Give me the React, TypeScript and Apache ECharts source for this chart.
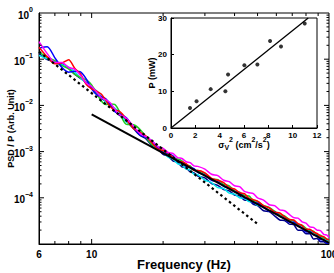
import React, { useEffect, useRef } from 'react';
import * as echarts from 'echarts';

const FONT = '"Liberation Sans", Arial, Helvetica, sans-serif';

// Frequency grid (Hz)
const freqHz = [6, 6.5, 7, 7.5, 8, 8.5, 9, 9.5, 10, 10.5, 11, 11.5, 12, 12.5, 13, 13.5, 14, 15, 16, 17, 18, 19, 20, 21, 22, 23, 24, 25, 26, 27, 28, 30, 32, 34, 36, 38, 40, 42, 44, 46, 48, 50, 53, 56, 59, 62, 65, 68, 71, 74, 77, 80, 83, 86, 89, 92, 95, 98, 100];

// log10(PSD / P), one array per coloured curve
const redLog = [-0.74, -0.95, -1.10, -1.08, -1.01, -1.20, -1.33, -1.55, -1.64, -1.69, -1.76, -1.90, -2.03, -2.10, -2.12, -2.19, -2.31, -2.50, -2.58, -2.67, -2.82, -2.94, -2.98, -3.03, -3.12, -3.20, -3.22, -3.26, -3.34, -3.41, -3.41, -3.46, -3.58, -3.62, -3.67, -3.78, -3.81, -3.89, -3.91, -4.01, -4.04, -4.07, -4.17, -4.22, -4.31, -4.33, -4.41, -4.47, -4.48, -4.56, -4.60, -4.68, -4.68, -4.74, -4.77, -4.83, -4.84, -4.90, -4.91];
const magentaLog = [-0.62, -0.88, -1.07, -1.07, -1.18, -1.22, -1.36, -1.52, -1.59, -1.71, -1.84, -1.88, -1.95, -2.08, -2.19, -2.23, -2.28, -2.45, -2.61, -2.68, -2.77, -2.89, -2.93, -3.02, -3.04, -3.13, -3.15, -3.22, -3.24, -3.31, -3.32, -3.38, -3.49, -3.52, -3.62, -3.65, -3.74, -3.76, -3.86, -3.89, -3.91, -4.00, -4.05, -4.15, -4.17, -4.26, -4.28, -4.36, -4.43, -4.44, -4.52, -4.55, -4.63, -4.64, -4.70, -4.71, -4.79, -4.81, -4.86];
const blueLog = [-0.76, -0.73, -0.97, -1.18, -1.28, -1.26, -1.28, -1.43, -1.64, -1.77, -1.81, -1.86, -1.99, -2.13, -2.18, -2.21, -2.27, -2.47, -2.64, -2.69, -2.78, -2.91, -3.02, -3.04, -3.09, -3.20, -3.23, -3.32, -3.34, -3.37, -3.45, -3.51, -3.62, -3.65, -3.75, -3.78, -3.87, -3.89, -4.00, -4.02, -4.11, -4.11, -4.20, -4.29, -4.30, -4.40, -4.45, -4.53, -4.53, -4.61, -4.65, -4.74, -4.73, -4.80, -4.82, -4.91, -4.91, -4.98, -4.98];
const greenLog = [-0.84, -0.96, -1.03, -1.14, -1.21, -1.33, -1.40, -1.45, -1.56, -1.74, -1.91, -1.98, -1.97, -1.98, -2.10, -2.30, -2.41, -2.42, -2.52, -2.69, -2.86, -2.89, -2.94, -3.06, -3.15, -3.16, -3.20, -3.29, -3.31, -3.40, -3.41, -3.47, -3.59, -3.61, -3.71, -3.74, -3.85, -3.88, -3.95, -3.96, -4.06, -4.08, -4.17, -4.21, -4.29, -4.37, -4.39, -4.47, -4.50, -4.58, -4.59, -4.66, -4.71, -4.72, -4.80, -4.81, -4.87, -4.89, -4.92];
const cyanLog = [-0.92, -0.99, -1.07, -1.12, -1.17, -1.28, -1.41, -1.52, -1.60, -1.69, -1.81, -1.93, -2.00, -2.06, -2.13, -2.25, -2.36, -2.49, -2.58, -2.70, -2.85, -2.96, -3.01, -3.12, -3.16, -3.26, -3.29, -3.38, -3.40, -3.49, -3.50, -3.62, -3.67, -3.78, -3.80, -3.90, -3.92, -4.00, -4.01, -4.08, -4.09, -4.16, -4.19, -4.28, -4.30, -4.39, -4.41, -4.48, -4.50, -4.58, -4.61, -4.69, -4.69, -4.76, -4.78, -4.85, -4.86, -4.92, -4.93];
const navyLog = [-0.87, -1.01, -1.06, -1.10, -1.20, -1.33, -1.42, -1.50, -1.61, -1.73, -1.85, -1.92, -1.98, -2.10, -2.20, -2.25, -2.31, -2.50, -2.65, -2.73, -2.88, -2.94, -3.06, -3.10, -3.20, -3.23, -3.33, -3.35, -3.44, -3.46, -3.53, -3.57, -3.69, -3.73, -3.82, -3.85, -3.94, -3.96, -4.05, -4.06, -4.14, -4.17, -4.28, -4.30, -4.39, -4.48, -4.49, -4.57, -4.58, -4.70, -4.70, -4.78, -4.78, -4.89, -4.88, -4.95, -4.95, -4.99, -4.98];

// Reference power laws (end points)
const dashedFreq = [6, 50];
const dashedPsd = [0.146, 2.71e-5];
const fitFreq = [10, 100];
const fitPsd = [6.37e-3, 1.06e-5];

// Inset: P vs sigma_v^2
const sigma2 = [1.56, 2.1, 3.26, 4.47, 4.69, 6.03, 7.1, 8.14, 9.04, 10.99];
const powerMW = [5.45, 7.3, 10.6, 10.0, 14.6, 17.1, 17.3, 23.7, 22.2, 28.5];
const insetFitX = [0, 11.28];
const insetFitY = [0, 30];

// Axis tick values
const xMajorTicks = [10];
const xMinorTicks = [7, 8, 9, 20, 30, 40, 50, 60, 70, 80, 90];
const yDecades = [1e-5, 1e-4, 1e-3, 1e-2, 1e-1];
const yMantissas = [2, 3, 4, 5, 6, 7, 8, 9];
const yMajorTicks = [1e-4, 1e-3, 1e-2, 1e-1];

const supMinus = (n: number) => (n === 0 ? '0' : '\u2212' + String(-n));

export default function App() {
  const ref = useRef<HTMLDivElement>(null);
  useEffect(() => {
    if (!ref.current) return;
    const chart = echarts.init(ref.current, undefined, { renderer: 'svg' });

    const toSeries = (arr: number[]) => freqHz.map((f, i) => [f, Math.pow(10, arr[i])]);

    const xTickItem = (len: number) => (params: any, api: any) => {
      const cs = params.coordSys;
      const x = api.coord([api.value(0), 1e-2])[0];
      const b = cs.y + cs.height;
      return {
        type: 'group',
        children: [
          { type: 'line', shape: { x1: x, y1: b, x2: x, y2: b - len }, style: { stroke: '#000', lineWidth: 1 } },
          { type: 'line', shape: { x1: x, y1: cs.y, x2: x, y2: cs.y + len }, style: { stroke: '#000', lineWidth: 1 } },
        ],
      };
    };
    const yTickItem = (len: number) => (params: any, api: any) => {
      const cs = params.coordSys;
      const y = api.coord([10, api.value(1)])[1];
      const r = cs.x + cs.width;
      return {
        type: 'group',
        children: [
          { type: 'line', shape: { x1: cs.x, y1: y, x2: cs.x + len, y2: y }, style: { stroke: '#000', lineWidth: 1 } },
          { type: 'line', shape: { x1: r, y1: y, x2: r - len, y2: y }, style: { stroke: '#000', lineWidth: 1 } },
        ],
      };
    };

    const yMinorTicks: number[] = [];
    yDecades.forEach((d) => yMantissas.forEach((m) => yMinorTicks.push(m * d)));

    const curve = (name: string, color: string, arr: number[]) => ({
      name,
      type: 'line',
      xAxisIndex: 0,
      yAxisIndex: 0,
      data: toSeries(arr),
      showSymbol: false,
      smooth: 0.25,
      lineStyle: { color, width: 1.5 },
      z: 3,
    });

    const labelRich = {
      b: { fontSize: 10, fontWeight: 'bold', color: '#000', fontFamily: FONT, lineHeight: 14, verticalAlign: 'bottom' },
      s: { fontSize: 7, fontWeight: 'bold', color: '#000', fontFamily: FONT, lineHeight: 14, verticalAlign: 'top' },
    };

    const option: any = {
      animation: false,
      textStyle: { fontFamily: FONT },
      grid: [
        { left: 39, top: 13, width: 290, height: 231, show: true, borderColor: '#000', borderWidth: 1, containLabel: false, outerBoundsMode: 'none' },
        { left: 171, top: 18, width: 146, height: 110, show: true, borderColor: '#000', borderWidth: 1, backgroundColor: '#fff', containLabel: false, outerBoundsMode: 'none' },
      ],
      xAxis: [
        {
          type: 'log', logBase: 10, gridIndex: 0, min: 6, max: 100,
          axisLine: { show: true, lineStyle: { color: '#000', width: 1 } },
          axisTick: { show: false },
          splitLine: { show: false },
          axisLabel: { color: '#000', fontSize: 10, fontWeight: 'bold', margin: 5, formatter: (v: number) => String(Math.round(v)) },
          name: 'Frequency (Hz)', nameLocation: 'middle', nameGap: 14, nameMoveOverlap: false,
          nameTextStyle: { fontSize: 13, fontWeight: 'bold', color: '#000', fontFamily: FONT },
        },
        {
          type: 'value', gridIndex: 1, min: 0, max: 12, interval: 2,
          axisLine: { show: true, lineStyle: { color: '#000', width: 1 } },
          axisTick: { show: true, inside: true, length: 3, lineStyle: { color: '#000' } },
          splitLine: { show: false },
          axisLabel: { color: '#000', fontSize: 8, fontWeight: 'bold', margin: 3 },
          name: '{b|\u03c3}{sub|V}{sup|2}{b| (cm}{sup|2}{b|/s}{sup|2}{b|)}',
          nameLocation: 'middle', nameGap: 8, nameMoveOverlap: false,
          nameTextStyle: {
            rich: {
              b: { fontSize: 9, fontWeight: 'bold', color: '#000', fontFamily: FONT, lineHeight: 13, verticalAlign: 'bottom' },
              sub: { fontSize: 7, fontWeight: 'bold', color: '#000', fontFamily: FONT, lineHeight: 13, verticalAlign: 'bottom', padding: [0, 0, -2, 0] },
              sup: { fontSize: 7, fontWeight: 'bold', color: '#000', fontFamily: FONT, lineHeight: 13, verticalAlign: 'top' },
            },
          },
        },
      ],
      yAxis: [
        {
          type: 'log', logBase: 10, gridIndex: 0, min: 1e-5, max: 1,
          axisLine: { show: true, lineStyle: { color: '#000', width: 1 } },
          axisTick: { show: false },
          splitLine: { show: false },
          axisLabel: {
            margin: 6,
            formatter: (v: number) => {
              const e = Math.round(Math.log10(v));
              if (e <= -5) return '';
              return '{b|10}{s|' + supMinus(e) + '}';
            },
            rich: labelRich,
          },
          name: 'PSD / P (Arb. Unit)', nameLocation: 'middle', nameGap: 24, nameMoveOverlap: false,
          nameTextStyle: { fontSize: 9, fontWeight: 'bold', color: '#000', fontFamily: FONT },
        },
        {
          type: 'value', gridIndex: 1, min: 0, max: 30, interval: 10,
          axisLine: { show: true, lineStyle: { color: '#000', width: 1 } },
          axisTick: { show: true, inside: true, length: 3, lineStyle: { color: '#000' } },
          splitLine: { show: false },
          axisLabel: { color: '#000', fontSize: 8, fontWeight: 'bold', margin: 4 },
          name: 'P (mW)', nameLocation: 'middle', nameGap: 15, nameMoveOverlap: false,
          nameTextStyle: { fontSize: 9, fontWeight: 'bold', color: '#000', fontFamily: FONT },
        },
      ],
      series: [
        curve('navy', '#00008b', navyLog),
        curve('cyan', '#00e5ee', cyanLog),
        curve('green', '#22cc22', greenLog),
        curve('blue', '#0000ff', blueLog),
        curve('red', '#ff0000', redLog),
        curve('magenta', '#ff00ff', magentaLog),
        {
          name: 'dashed', type: 'line', xAxisIndex: 0, yAxisIndex: 0,
          data: dashedFreq.map((f, i) => [f, dashedPsd[i]]),
          showSymbol: false, lineStyle: { color: '#000', width: 2.2, type: [2.5, 3] }, z: 4,
        },
        {
          name: 'fit', type: 'line', xAxisIndex: 0, yAxisIndex: 0,
          data: fitFreq.map((f, i) => [f, fitPsd[i]]),
          showSymbol: false, lineStyle: { color: '#000', width: 2 }, z: 4,
        },
        {
          type: 'custom', xAxisIndex: 0, yAxisIndex: 0, silent: true, clip: false, z: 5,
          data: xMajorTicks.map((f) => [f, 1e-2]), renderItem: xTickItem(5),
        },
        {
          type: 'custom', xAxisIndex: 0, yAxisIndex: 0, silent: true, clip: false, z: 5,
          data: xMinorTicks.map((f) => [f, 1e-2]), renderItem: xTickItem(3),
        },
        {
          type: 'custom', xAxisIndex: 0, yAxisIndex: 0, silent: true, clip: false, z: 5,
          data: yMajorTicks.map((v) => [10, v]), renderItem: yTickItem(5),
        },
        {
          type: 'custom', xAxisIndex: 0, yAxisIndex: 0, silent: true, clip: false, z: 5,
          data: yMinorTicks.map((v) => [10, v]), renderItem: yTickItem(2.5),
        },
        {
          name: 'insetFit', type: 'line', xAxisIndex: 1, yAxisIndex: 1,
          data: insetFitX.map((x, i) => [x, insetFitY[i]]),
          showSymbol: false, lineStyle: { color: '#000', width: 1.3 }, z: 6,
        },
        {
          name: 'insetPts', type: 'scatter', xAxisIndex: 1, yAxisIndex: 1,
          data: sigma2.map((x, i) => [x, powerMW[i]]),
          symbolSize: 4, itemStyle: { color: '#000' }, z: 7,
        },
      ],
    };
    chart.setOption(option);
    return () => chart.dispose();
  }, []);
  return <div ref={ref} style={{ position: 'absolute', left: 0, top: 0, width: 334, height: 273 }} />;
}
